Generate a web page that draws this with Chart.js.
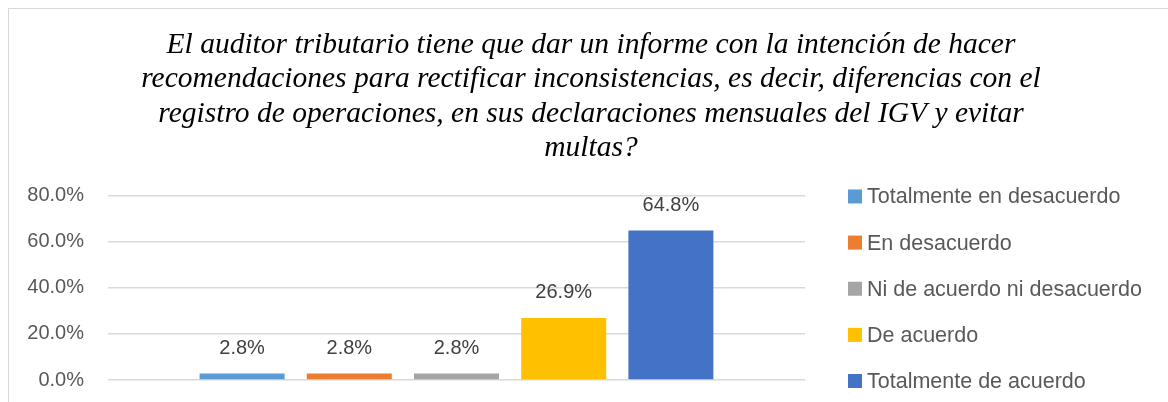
<!DOCTYPE html>
<html>
<head>
<meta charset="utf-8">
<script src="https://cdn.jsdelivr.net/npm/chart.js@4"></script>
<style>
  html, body { margin: 0; padding: 0; background: #fff; overflow: hidden; }
  #frame { position: absolute; left: 8px; top: 8px; width: 1300px; height: 600px; border: 1px solid #d9d9d9; }
  #chart { position: absolute; left: 0; top: 0; }
</style>
</head>
<body>
<div id="frame"></div>
<canvas id="chart" width="1168" height="402"></canvas>
<script>
const titleLines = [
  "El auditor tributario tiene que dar un informe con la intención de hacer",
  "recomendaciones para rectificar inconsistencias, es decir, diferencias con el",
  "registro de operaciones, en sus declaraciones mensuales del IGV y evitar",
  "multas?"
];
const seriesNames = [
  "Totalmente en desacuerdo",
  "En desacuerdo",
  "Ni de acuerdo ni desacuerdo",
  "De acuerdo",
  "Totalmente de acuerdo"
];
const seriesValues = [2.8, 2.8, 2.8, 26.9, 64.8];
const seriesColors = ["#5B9BD5", "#ED7D31", "#A5A5A5", "#FFC000", "#4472C4"];

const textColor = "#595959";

// value labels above each bar
const barLabels = {
  id: "barLabels",
  afterDatasetsDraw(chart) {
    const ctx = chart.ctx;
    ctx.save();
    ctx.font = "20px 'Liberation Sans', Arial, sans-serif";
    ctx.fillStyle = "#404040";
    ctx.textAlign = "center";
    ctx.textBaseline = "middle";
    chart.data.datasets.forEach((ds, i) => {
      chart.getDatasetMeta(i).data.forEach((bar, j) => {
        ctx.fillText(ds.data[j].toFixed(1) + "%", bar.x, bar.y - 25);
      });
    });
    ctx.restore();
  }
};

// legend on the right, one row per series
const sideLegend = {
  id: "sideLegend",
  afterDraw(chart) {
    const ctx = chart.ctx;
    const area = chart.chartArea;
    const n = chart.data.datasets.length;
    const step = (area.bottom - area.top) / (n - 1);
    const x = area.right + 43;
    ctx.save();
    ctx.font = "21.5px 'Liberation Sans', Arial, sans-serif";
    ctx.textBaseline = "middle";
    ctx.textAlign = "left";
    chart.data.datasets.forEach((ds, i) => {
      const y = area.top + 1 + i * step;
      ctx.fillStyle = ds.backgroundColor;
      ctx.fillRect(x, y - 7, 14, 14);
      ctx.fillStyle = textColor;
      ctx.fillText(ds.label, x + 19, y + 1);
    });
    ctx.restore();
  }
};

new Chart(document.getElementById("chart"), {
  type: "bar",
  data: {
    labels: [""],
    datasets: seriesNames.map((name, i) => ({
      label: name,
      data: [seriesValues[i]],
      backgroundColor: seriesColors[i],
      categoryPercentage: 0.769,
      barPercentage: 0.793
    }))
  },
  options: {
    responsive: false,
    animation: false,
    layout: { padding: { left: 14, right: 0, top: 0, bottom: 22 } },
    plugins: {
      legend: { display: false },
      tooltip: { enabled: false },
      title: {
        display: true,
        text: titleLines,
        color: "#000",
        font: { family: "'Liberation Serif', 'Times New Roman', serif", size: 29.5, style: "italic", weight: "normal", lineHeight: 1.165 },
        padding: { top: 28, bottom: 30 }
      }
    },
    scales: {
      x: { display: false },
      y: {
        min: 0,
        max: 80,
        ticks: {
          stepSize: 20,
          color: textColor,
          padding: 24,
          font: { family: "'Liberation Sans', Arial, sans-serif", size: 20 },
          callback: v => v.toFixed(1) + "%"
        },
        grid: { color: "#d9d9d9", lineWidth: 1.5, drawTicks: false },
        border: { display: false },
        afterFit(scale) {
          scale.width = 94;
          // tick padding should only push labels sideways
          scale.paddingTop = 12;
          scale.paddingBottom = 12;
        }
      },
      // empty right-hand axis that only reserves room for the legend
      side: {
        type: "linear",
        position: "right",
        grid: { display: false },
        ticks: { display: false },
        border: { display: false },
        afterFit(scale) { scale.width = 363; }
      }
    }
  },
  plugins: [barLabels, sideLegend]
});
</script>
</body>
</html>
